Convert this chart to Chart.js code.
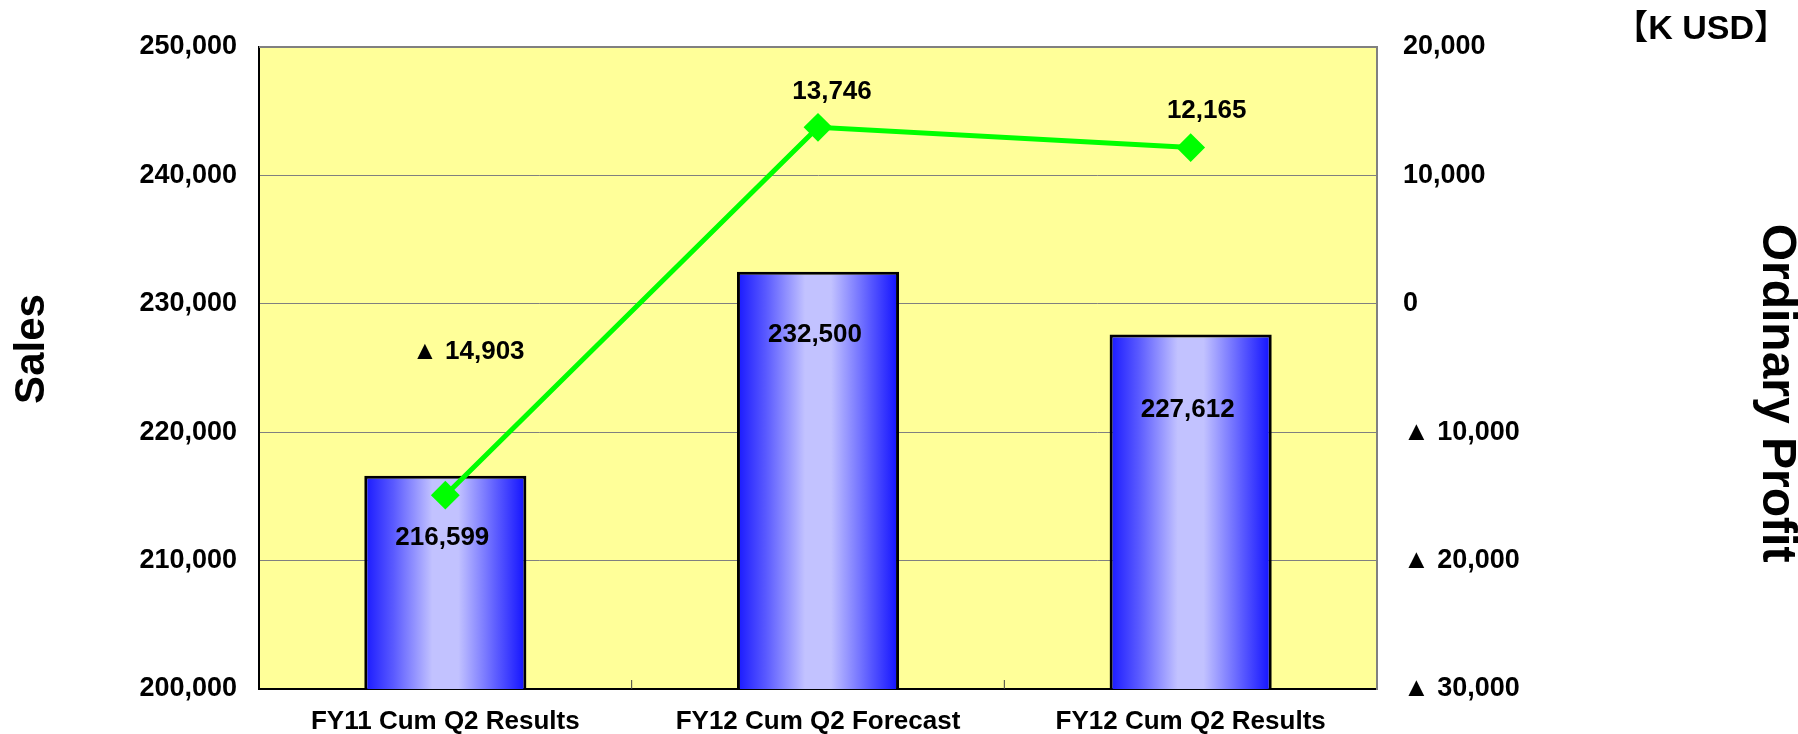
<!DOCTYPE html>
<html>
<head>
<meta charset="utf-8">
<script src="https://cdn.jsdelivr.net/npm/chart.js@4"></script>
<style>
  html, body { margin: 0; padding: 0; background: #ffffff; }
  #wrap { width: 1798px; height: 734px; }
</style>
</head>
<body>
<div id="wrap"><canvas id="myChart"></canvas></div>
<script>
const categories = ["FY11 Cum Q2 Results", "FY12 Cum Q2 Forecast", "FY12 Cum Q2 Results"];
const salesValues = [216599, 232500, 227612];
const profitValues = [-14903, 13746, 12165];
const salesTicks = [200000, 210000, 220000, 230000, 240000, 250000];
const profitTicks = [-30000, -20000, -10000, 0, 10000, 20000];

const FONT = '"Liberation Sans", Arial, "Noto Sans CJK JP", sans-serif';

function fmt(v) {
  const s = Math.abs(v).toLocaleString('en-US');
  return v < 0 ? '▲ ' + s : s;
}

// horizontal blue gradient for each bar
function barGradient(context) {
  const chart = context.chart;
  const xs = chart.scales.x;
  if (!xs || !chart.chartArea) return '#4040ff';
  const i = context.dataIndex;
  const cx = xs.getPixelForValue(i);
  const w = (xs.width / categories.length) * 0.435;
  const g = chart.ctx.createLinearGradient(cx - w / 2, 0, cx + w / 2, 0);
  g.addColorStop(0, '#1818ff');
  g.addColorStop(0.18, '#5a5aff');
  g.addColorStop(0.42, '#c2c2ff');
  g.addColorStop(0.58, '#c2c2ff');
  g.addColorStop(0.82, '#5a5aff');
  g.addColorStop(1, '#1010ff');
  return g;
}

const plotFrame = {
  id: 'plotFrame',
  beforeDraw(chart) {
    const a = chart.chartArea;
    const ctx = chart.ctx;
    ctx.save();
    ctx.fillStyle = '#ffff99';
    ctx.fillRect(a.left, a.top, a.right - a.left, a.bottom - a.top);
    ctx.restore();
  },
  beforeDatasetsDraw(chart) {
    const a = chart.chartArea;
    const ctx = chart.ctx;
    ctx.save();
    ctx.strokeStyle = '#808080';
    ctx.lineWidth = 2;
    ctx.beginPath();
    ctx.moveTo(a.left, a.top);
    ctx.lineTo(a.right, a.top);
    ctx.lineTo(a.right, a.bottom);
    ctx.stroke();
    // small inside ticks at category boundaries
    const xs = chart.scales.x;
    ctx.strokeStyle = '#404040';
    ctx.lineWidth = 1;
    for (let i = 0; i < categories.length - 1; i++) {
      const bx = (xs.getPixelForValue(i) + xs.getPixelForValue(i + 1)) / 2;
      ctx.beginPath();
      ctx.moveTo(bx, a.bottom);
      ctx.lineTo(bx, a.bottom - 9);
      ctx.stroke();
    }
    ctx.restore();
  }
};

const valueLabels = {
  id: 'valueLabels',
  afterDatasetsDraw(chart, args, opts) {
    const ctx = chart.ctx;
    ctx.save();
    ctx.font = 'bold 26px ' + FONT;
    ctx.fillStyle = '#000000';
    ctx.textAlign = 'center';
    ctx.textBaseline = 'middle';
    chart.getDatasetMeta(1).data.forEach(function(bar, i) {
      ctx.fillText(fmt(salesValues[i]), bar.x - 3, bar.y + opts.barDy[i]);
    });
    chart.getDatasetMeta(0).data.forEach(function(pt, i) {
      ctx.fillText(fmt(profitValues[i]), pt.x + opts.lineDx[i], pt.y + opts.lineDy[i]);
    });
    ctx.restore();
  },
  afterDraw(chart) {
    const ctx = chart.ctx;
    ctx.save();
    ctx.fillStyle = '#000000';
    ctx.textBaseline = 'middle';
    // unit note
    ctx.font = 'bold 34px ' + FONT;
    ctx.textAlign = 'right';
    ctx.fillText('【K USD】', 1788, 30);
    // axis titles
    ctx.textAlign = 'center';
    ctx.font = 'bold 42px ' + FONT;
    ctx.save();
    ctx.translate(32, 349);
    ctx.rotate(-Math.PI / 2);
    ctx.fillText('Sales', 0, 0);
    ctx.restore();
    ctx.font = 'bold 48px ' + FONT;
    ctx.translate(1776, 393);
    ctx.rotate(Math.PI / 2);
    ctx.fillText('Ordinary Profit', 0, 0);
    ctx.restore();
  }
};

const ctx = document.getElementById('myChart').getContext('2d');
const myChart = new Chart(ctx, {
  data: {
    labels: categories,
    datasets: [{
      type: 'line',
      label: 'Ordinary Profit',
      data: profitValues,
      yAxisID: 'y1',
      order: 0,
      borderColor: '#00ff00',
      borderWidth: 5,
      pointStyle: 'rectRot',
      pointRadius: 13,
      pointBackgroundColor: '#00ff00',
      pointBorderColor: '#00ff00',
      pointBorderWidth: 2,
      tension: 0
    }, {
      type: 'bar',
      label: 'Sales',
      data: salesValues,
      yAxisID: 'y',
      order: 1,
      backgroundColor: barGradient,
      borderColor: '#000000',
      borderWidth: 3,
      borderSkipped: false,
      categoryPercentage: 1,
      barPercentage: 0.435
    }]
  },
  options: {
    responsive: true,
    maintainAspectRatio: false,
    animation: false,
    layout: { padding: { top: 47, left: 0, right: 0, bottom: 0 } },
    plugins: {
      legend: { display: false },
      tooltip: { enabled: false },
      valueLabels: {
        barDy: [62, 63, 75],
        lineDx: [23, 14, 16],
        lineDy: [-143, -35, -37]
      }
    },
    scales: {
      x: {
        offset: true,
        grid: { display: false, drawTicks: false },
        border: { color: '#000000', width: 2 },
        ticks: {
          color: '#000000',
          padding: 17,
          maxRotation: 0,
          font: { family: FONT, size: 26, weight: 'bold' }
        },
        afterFit: function(scale) { scale.height = 45; }
      },
      y: {
        position: 'left',
        min: 200000,
        max: 250000,
        afterBuildTicks: function(scale) {
          scale.ticks = salesTicks.map(function(v) { return { value: v }; });
        },
        grid: { color: '#808080', lineWidth: 1, drawTicks: false },
        border: { color: '#000000', width: 2 },
        ticks: {
          color: '#000000',
          padding: 22,
          font: { family: FONT, size: 27, weight: 'bold' },
          callback: function(value) { return fmt(value); }
        },
        afterFit: function(scale) { scale.width = 259; }
      },
      y1: {
        position: 'right',
        min: -30000,
        max: 20000,
        afterBuildTicks: function(scale) {
          scale.ticks = profitTicks.map(function(v) { return { value: v }; });
        },
        grid: { drawOnChartArea: false, drawTicks: false },
        border: { color: '#808080', width: 2 },
        ticks: {
          color: '#000000',
          padding: 26,
          font: { family: FONT, size: 27, weight: 'bold' },
          callback: function(value) { return fmt(value); }
        },
        afterFit: function(scale) { scale.width = 421; }
      }
    }
  },
  plugins: [plotFrame, valueLabels]
});
</script>
</body>
</html>
